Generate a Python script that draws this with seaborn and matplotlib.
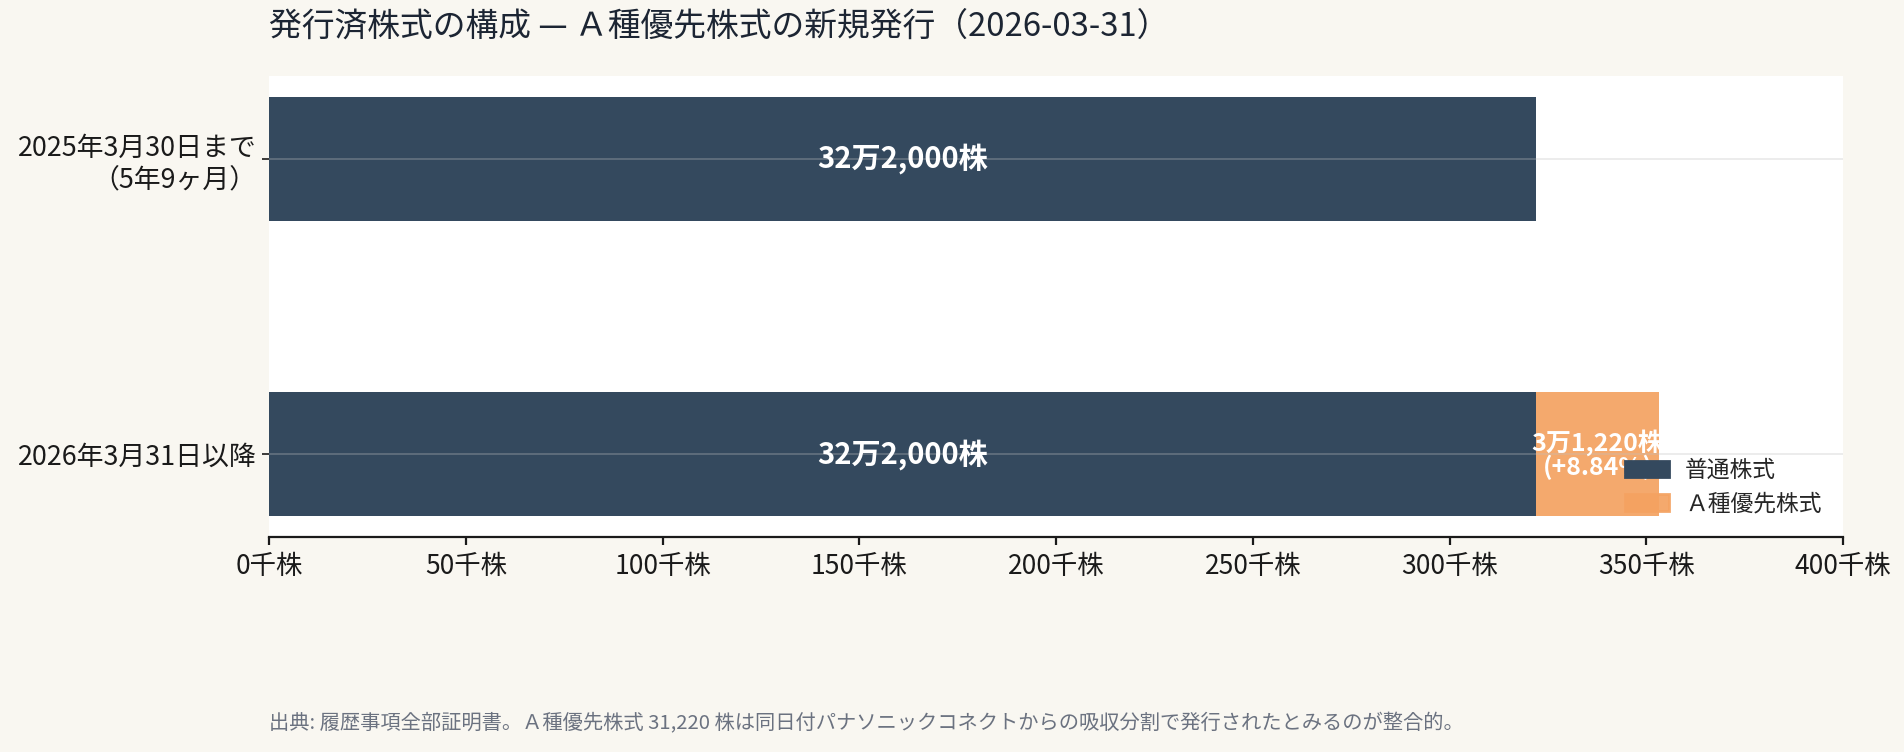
import pandas as pd
import matplotlib
matplotlib.use("Agg")
import matplotlib.pyplot as plt
import matplotlib.patches as mpatches
import seaborn as sns

# データ
periods = ["2025年3月30日まで\n（5年9ヶ月）", "2026年3月31日以降"]
common_shares = [322000, 322000]
pref_shares = [0, 31220]
common_labels = ["32万2,000株", "32万2,000株"]
pref_labels = ["", "3万1,220株\n(+8.84%)"]
series_names = ["普通株式", "Ａ種優先株式"]
xticks = [0, 50000, 100000, 150000, 200000, 250000, 300000, 350000, 400000]
xtick_labels = ["0千株", "50千株", "100千株", "150千株", "200千株",
                "250千株", "300千株", "350千株", "400千株"]
title = "発行済株式の構成 — Ａ種優先株式の新規発行（2026-03-31）"
source_note = ("出典: 履歴事項全部証明書。Ａ種優先株式 31,220 株は同日付パナソニックコネクト"
               "からの吸収分割で発行されたとみるのが整合的。")

navy = "#34495e"
orange = "#f4a261"
bg = "#f9f7f1"

sns.set_theme(style="white")
plt.rcParams['font.family'] = ['Noto Sans CJK JP', 'DejaVu Sans']

df = pd.DataFrame({"period": periods, "common": common_shares, "pref": pref_shares})

fig = plt.figure(figsize=(9.52, 3.76), dpi=200, facecolor=bg)
ax = fig.add_axes([0.1413, 0.2859, 0.8267, 0.6130])
ax.set_facecolor("white")

# 普通株式
sns.barplot(data=df, y="period", x="common", color=navy, saturation=1,
            width=0.42, errorbar=None, ax=ax, linewidth=0)
# Ａ種優先株式（普通株式の右に積み上げ）
sns.barplot(data=df, y="period", x="pref", color=orange, saturation=1,
            width=0.42, errorbar=None, ax=ax, linewidth=0, alpha=0.92,
            left=df["common"].values)

for i in range(len(df)):
    ax.text(df["common"][i] / 2, i, common_labels[i], ha="center", va="center",
            color="white", fontsize=10.5, fontweight="bold")
    if pref_labels[i]:
        ax.text(df["common"][i] + df["pref"][i] / 2, i, pref_labels[i],
                ha="center", va="center", color="white", fontsize=9,
                fontweight="bold", linespacing=0.95)

ax.set_xlim(0, 400000)
ax.set_ylim(1.28, -0.28)
ax.set_xticks(xticks)
ax.set_xticklabels(xtick_labels)
ax.set_xlabel("")
ax.set_ylabel("")

ax.yaxis.grid(True, color="#c0c0c0", alpha=0.35, lw=0.6)
ax.xaxis.grid(False)
ax.set_axisbelow(False)

for s in ["top", "right", "left"]:
    ax.spines[s].set_visible(False)
ax.spines["bottom"].set_color("#1a1a1a")
ax.spines["bottom"].set_linewidth(0.8)

ax.tick_params(axis="x", bottom=True, length=2.9, width=0.8, pad=3,
               labelsize=9.5, colors="#1a1a1a")
ax.tick_params(axis="y", left=True, length=2.5, width=0.6, pad=2,
               labelsize=9.7, colors="#1a1a1a")

handles = [mpatches.Patch(color=navy, label=series_names[0]),
           mpatches.Patch(color=orange, alpha=0.92, label=series_names[1])]
ax.legend(handles=handles, loc="lower right", frameon=False, fontsize=8.2,
          handlelength=1.95, handleheight=0.72, handletextpad=0.7,
          labelspacing=0.45, borderaxespad=0.55)

fig.text(0.1413, 0.964, title, fontsize=11.8, color="#1c2533", va="center", ha="left")
fig.text(0.1413, 0.037, source_note, fontsize=7.3, color="#6b7280", va="center", ha="left")

fig.savefig("out.png", dpi=200, facecolor=bg)
